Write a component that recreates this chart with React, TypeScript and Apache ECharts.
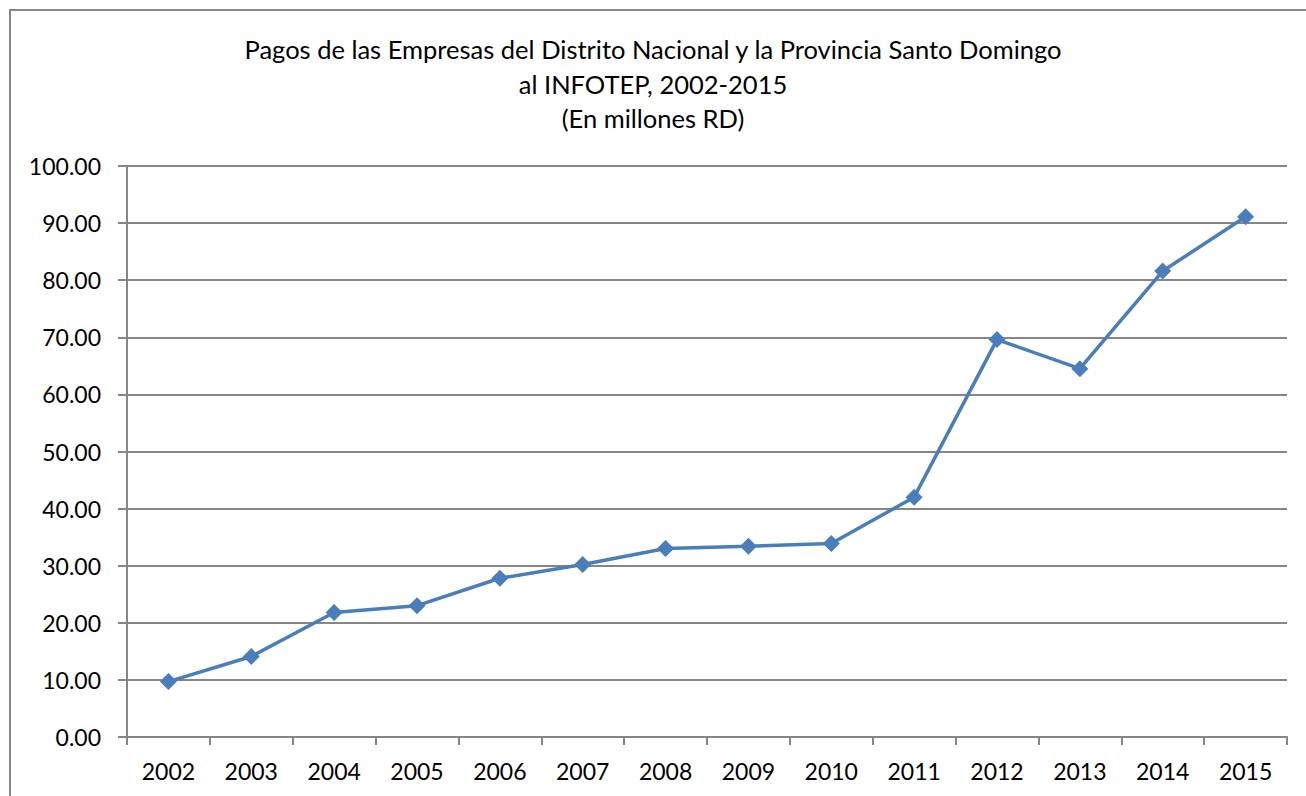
import React, { useEffect, useRef } from "react";
import * as echarts from "echarts";

const years = ["2002", "2003", "2004", "2005", "2006", "2007", "2008", "2009", "2010", "2011", "2012", "2013", "2014", "2015"];
const pagos = [9.7, 14.1, 21.8, 23.0, 27.8, 30.2, 33.0, 33.4, 33.9, 42.0, 69.6, 64.5, 81.6, 91.1];
const titleLines = [
  "Pagos de las Empresas del Distrito Nacional y la Provincia Santo Domingo",
  "al INFOTEP, 2002-2015",
  "(En millones RD)",
];

const FONT = "Lato, 'Open Sans', sans-serif";

export default function App() {
  const ref = useRef<HTMLDivElement>(null);
  useEffect(() => {
    if (!ref.current) return;
    const chart = echarts.init(ref.current, null, { renderer: "svg" });
    chart.setOption({
      animation: false,
      backgroundColor: "#ffffff",
      title: {
        text: titleLines.join("\n"),
        left: "center",
        top: 27,
        textStyle: { fontFamily: FONT, fontSize: 25.5, fontWeight: "normal", color: "#000", lineHeight: 34.5 },
      },
      graphic: [
        {
          type: "rect",
          shape: { x: 10, y: 10, width: 1310, height: 820 },
          style: { fill: "none", stroke: "#878787", lineWidth: 2 },
          silent: true,
        },
      ],
      grid: { left: 127, right: 19, top: 166, bottom: 59, containLabel: false },
      xAxis: {
        type: "category",
        data: years,
        boundaryGap: true,
        axisLine: { show: true, lineStyle: { color: "#868686", width: 2 } },
        axisTick: { show: true, alignWithLabel: false, length: 8, lineStyle: { color: "#868686", width: 2 } },
        axisLabel: { color: "#000", fontFamily: FONT, fontSize: 23, margin: 22 },
        splitLine: { show: false },
      },
      yAxis: {
        type: "value",
        min: 0,
        max: 100,
        interval: 10,
        axisLine: { show: true, lineStyle: { color: "#868686", width: 2 } },
        axisTick: { show: true, length: 9, lineStyle: { color: "#868686", width: 2 } },
        axisLabel: {
          color: "#000",
          fontFamily: FONT,
          fontSize: 23,
          margin: 26,
          formatter: (v: number) => v.toFixed(2),
        },
        splitLine: { show: true, lineStyle: { color: "#868686", width: 2 } },
      },
      series: [
        {
          type: "line",
          data: pagos,
          symbol: "diamond",
          symbolSize: 17,
          lineStyle: { color: "#4A7EBB", width: 3.5 },
          itemStyle: { color: "#4A7EBB" },
        },
      ],
    });
    return () => chart.dispose();
  }, []);
  return <div ref={ref} style={{ position: "fixed", left: 0, top: 0, width: 1306, height: 796 }} />;
}
